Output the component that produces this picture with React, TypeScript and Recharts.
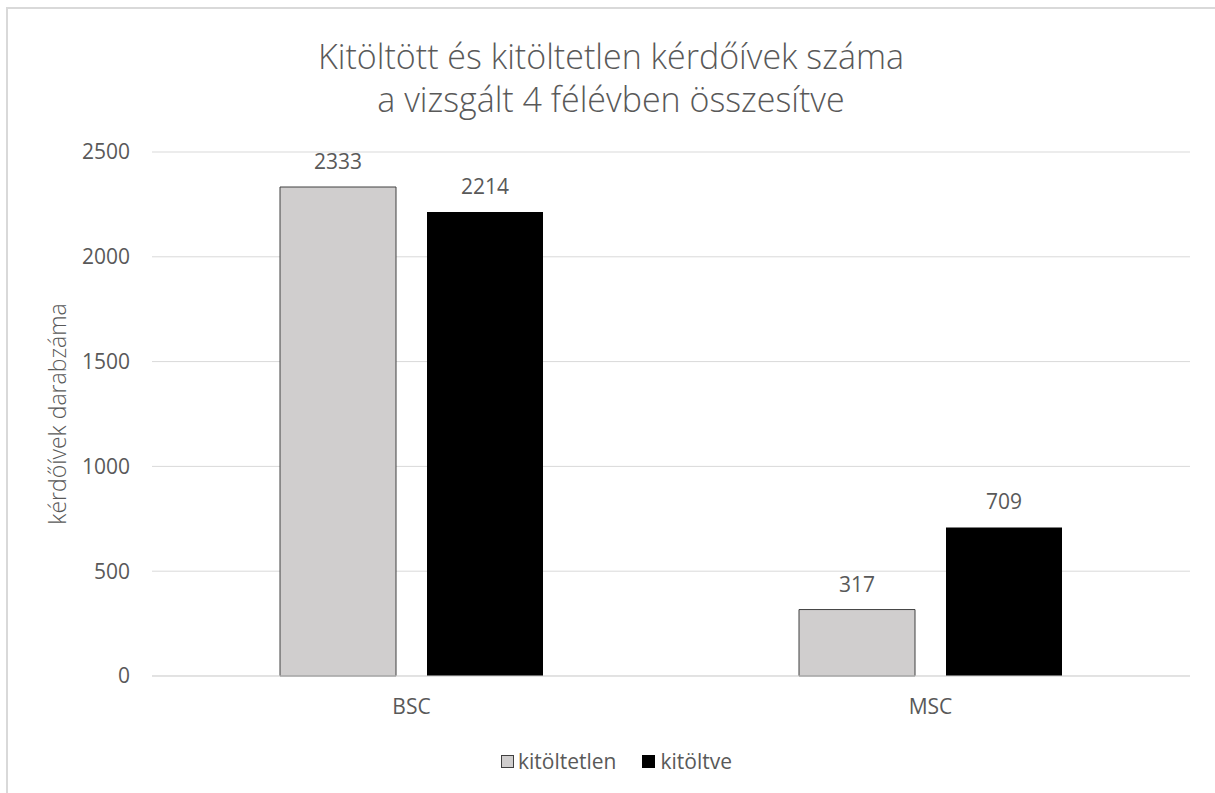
import React from 'react';
import { BarChart, Bar, XAxis, YAxis, CartesianGrid, Legend, LabelList } from 'recharts';

const categories = ['BSC', 'MSC'];
const kitoltetlenValues = [2333, 317];
const kitoltveValues = [2214, 709];
const yTicks = [0, 500, 1000, 1500, 2000, 2500];
const seriesNames = ['kitöltetlen', 'kitöltve'];
const titleLines = ['Kitöltött és kitöltetlen kérdőívek száma', 'a vizsgált 4 félévben összesítve'];
const yAxisTitle = 'kérdőívek darabzáma';

const data = categories.map((c, i) => ({
  name: c,
  kitoltetlen: kitoltetlenValues[i],
  kitoltve: kitoltveValues[i],
}));

const TEXT = '#595959';
const GRID = '#d9d9d9';

const YLabel = (props: any) => {
  const vb = props.viewBox || { x: 30, y: 152, width: 122, height: 524 };
  const cx = 57;
  const cy = vb.y + vb.height / 2;
  return (
    <text
      x={cx}
      y={cy}
      transform={`rotate(-90 ${cx} ${cy})`}
      textAnchor="middle"
      dominantBaseline="central"
      fill={TEXT}
      fontSize={23}
      fontWeight={300}
    >
      {yAxisTitle}
    </text>
  );
};

const renderLegend = () => (
  <div
    style={{
      display: 'flex',
      justifyContent: 'center',
      alignItems: 'center',
      height: 26,
      paddingLeft: 18,
      color: TEXT,
      fontSize: 21,
      lineHeight: '26px',
    }}
  >
    <div style={{ display: 'flex', alignItems: 'center', marginRight: 26 }}>
      <span style={{ width: 11, height: 11, background: '#d0cece', border: '1px solid #404040', marginRight: 4 }} />
      <span>{seriesNames[0]}</span>
    </div>
    <div style={{ display: 'flex', alignItems: 'center' }}>
      <span style={{ width: 13, height: 13, background: '#000000', marginRight: 5 }} />
      <span>{seriesNames[1]}</span>
    </div>
  </div>
);

export default function App() {
  return (
    <div
      style={{
        position: 'absolute',
        left: 0,
        top: 0,
        width: 1215,
        height: 793,
        background: '#ffffff',
        overflow: 'hidden',
        fontFamily: '"Open Sans", sans-serif',
      }}
    >
      <div
        style={{
          position: 'absolute',
          left: 6,
          top: 7,
          right: -4,
          bottom: -4,
          borderTop: `2px solid ${GRID}`,
          borderLeft: `2px solid ${GRID}`,
        }}
      />
      <div
        style={{
          position: 'absolute',
          left: 7,
          width: 1208,
          top: 35,
          textAlign: 'center',
          color: TEXT,
          fontSize: 34,
          fontWeight: 300,
          lineHeight: '43px',
        }}
      >
        <div>{titleLines[0]}</div>
        <div>{titleLines[1]}</div>
      </div>
      <div style={{ position: 'absolute', left: 0, top: 0 }}>
        <BarChart
          width={1215}
          height={793}
          data={data}
          margin={{ top: 152, right: 25, left: 30, bottom: 77 }}
          barGap={31}
          barSize={116}
        >
          <CartesianGrid vertical={false} stroke={GRID} strokeWidth={1} />
          <XAxis
            dataKey="name"
            height={40}
            axisLine={{ stroke: GRID }}
            tickLine={false}
            tickSize={0}
            tickMargin={23}
            tick={{ fill: TEXT, fontSize: 21 }}
          />
          <YAxis
            width={122}
            domain={[0, 2500]}
            ticks={yTicks}
            axisLine={false}
            tickLine={false}
            tickSize={0}
            tickMargin={22}
            tick={{ fill: TEXT, fontSize: 21 }}
            label={<YLabel />}
          />
          <Legend
            verticalAlign="middle"
            align="center"
            layout="horizontal"
            wrapperStyle={{ top: 748, left: 0, width: 1215 }}
            content={renderLegend}
          />
          <Bar dataKey="kitoltetlen" name={seriesNames[0]} fill="#d0cece" stroke="#404040" strokeWidth={1} isAnimationActive={false}>
            <LabelList dataKey="kitoltetlen" position="top" offset={18} fill={TEXT} fontSize={21} />
          </Bar>
          <Bar dataKey="kitoltve" name={seriesNames[1]} fill="#000000" isAnimationActive={false}>
            <LabelList dataKey="kitoltve" position="top" offset={18} fill={TEXT} fontSize={21} />
          </Bar>
        </BarChart>
      </div>
    </div>
  );
}
